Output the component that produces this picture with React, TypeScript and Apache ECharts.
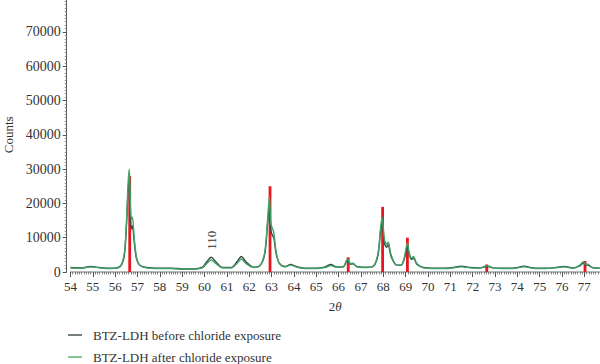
import React, { useEffect, useRef } from "react";
import * as echarts from "echarts";

// 2θ (degrees) and counts
const beforeExposure: [number, number][] = [
  [54.0, 1300], [54.5, 1200], [54.9, 1600], [55.3, 1300], [55.8, 1100], [56.2, 1500],
  [56.4, 4500], [56.5, 13000], [56.58, 24000], [56.63, 27000], [56.68, 18000], [56.72, 12500],
  [56.77, 13500], [56.85, 9000], [56.95, 4000], [57.1, 2000], [57.4, 1300], [58.0, 1100],
  [58.5, 1100], [59.0, 900], [59.5, 900], [59.9, 1400], [60.1, 3000], [60.3, 4300],
  [60.5, 3000], [60.8, 1300], [61.2, 1300], [61.45, 3000], [61.65, 4500], [61.85, 3000],
  [62.2, 1400], [62.5, 2000], [62.7, 5500], [62.82, 14000], [62.9, 19000], [62.97, 12000],
  [63.05, 10500], [63.1, 10000], [63.2, 5500], [63.35, 2500], [63.6, 1600], [63.85, 2200],
  [64.1, 1600], [64.5, 1100], [65.0, 1100], [65.4, 1500], [65.65, 2200], [65.9, 1500],
  [66.2, 1500], [66.4, 3500], [66.5, 2300], [66.65, 2400], [66.8, 1600], [67.1, 1400],
  [67.5, 1500], [67.75, 4500], [67.88, 12000], [67.95, 14500], [68.05, 8500], [68.15, 7200],
  [68.22, 8000], [68.35, 4500], [68.6, 2000], [68.8, 2000], [68.95, 4000], [69.08, 7500],
  [69.15, 5500], [69.25, 3700], [69.35, 4000], [69.5, 2300], [69.8, 1300], [70.3, 1100],
  [70.8, 1100], [71.2, 1400], [71.5, 1700], [71.9, 1300], [72.3, 1200], [72.6, 1500],
  [72.75, 1500], [72.9, 1200], [73.3, 1100], [73.9, 1200], [74.3, 1700], [74.7, 1200],
  [75.3, 1100], [75.8, 1400], [76.1, 1600], [76.5, 1200], [76.8, 1800], [76.95, 2600],
  [77.05, 2000], [77.15, 2000], [77.35, 1300], [77.7, 1100],
];

const afterExposure: [number, number][] = [
  [54.0, 1200], [54.5, 1100], [54.9, 1500], [55.3, 1200], [55.8, 1000], [56.2, 1500],
  [56.4, 5000], [56.5, 14000], [56.58, 26000], [56.63, 30000], [56.68, 20000], [56.72, 15500],
  [56.77, 16000], [56.85, 10000], [56.95, 4500], [57.1, 2000], [57.4, 1200], [58.0, 1000],
  [58.5, 1000], [59.0, 800], [59.5, 800], [59.9, 1200], [60.1, 2500], [60.3, 3500],
  [60.5, 2500], [60.8, 1200], [61.2, 1200], [61.45, 2500], [61.65, 3800], [61.85, 2500],
  [62.2, 1300], [62.5, 2000], [62.7, 6000], [62.82, 15000], [62.9, 22000], [62.97, 14000],
  [63.05, 12500], [63.1, 11500], [63.2, 6000], [63.35, 2500], [63.6, 1500], [63.85, 2000],
  [64.1, 1500], [64.5, 1000], [65.0, 1000], [65.4, 1300], [65.65, 1900], [65.9, 1400],
  [66.2, 1500], [66.4, 3800], [66.5, 2500], [66.65, 2600], [66.8, 1600], [67.1, 1300],
  [67.5, 1500], [67.75, 5000], [67.88, 13000], [67.95, 16000], [68.05, 9500], [68.15, 8000],
  [68.22, 8800], [68.35, 5000], [68.6, 2000], [68.8, 2000], [68.95, 4500], [69.08, 8500],
  [69.15, 6000], [69.25, 4000], [69.35, 4500], [69.5, 2500], [69.8, 1200], [70.3, 1000],
  [70.8, 1000], [71.2, 1300], [71.5, 1500], [71.9, 1200], [72.3, 1100], [72.6, 1800],
  [72.75, 1700], [72.9, 1200], [73.3, 1000], [73.9, 1100], [74.3, 1500], [74.7, 1100],
  [75.3, 1000], [75.8, 1300], [76.1, 1500], [76.5, 1100], [76.8, 2000], [76.95, 3000],
  [77.05, 2200], [77.15, 2300], [77.35, 1300], [77.7, 1100],
];

// reference pattern lines (red)
const referencePeaks: [number, number][] = [
  [56.65, 28000], [62.93, 25000], [66.43, 4300], [67.97, 19000],
  [69.08, 10000], [72.63, 2200], [77.03, 3200],
];

const seriesNames = ["BTZ-LDH before chloride exposure", "BTZ-LDH after chloride exposure"];
const annotation = { label: "110", at: [60.3, 4300] };

const SERIF = "'Liberation Serif', 'DejaVu Serif', serif";

export default function App() {
  const ref = useRef<HTMLDivElement>(null);
  useEffect(() => {
    if (!ref.current) return;
    const chart = echarts.init(ref.current, undefined, { renderer: "svg" });
    chart.setOption({
      animation: false,
      backgroundColor: "#ffffff",
      grid: {
        left: 70.5, right: 0, top: -2.3, bottom: 92,
        containLabel: false, outerBoundsMode: "none",
      },
      legend: {
        orient: "vertical",
        left: 68,
        top: 328,
        height: 40,
        padding: 0,
        itemGap: 8,
        itemWidth: 14,
        itemHeight: 1.4,
        icon: "rect",
        data: seriesNames,
        textStyle: { fontFamily: SERIF, fontSize: 13, color: "#333", padding: [0, 0, 0, 6], lineHeight: 14 },
      },
      xAxis: {
        type: "value",
        min: 54,
        max: 77.7,
        interval: 1,
        name: "2{i|θ}",
        nameLocation: "middle",
        nameGap: 28,
        nameTextStyle: {
          fontFamily: SERIF, fontSize: 13, color: "#333",
          rich: { i: { fontFamily: SERIF, fontSize: 13, fontStyle: "italic", color: "#333" } },
        },
        axisLine: { show: true, onZero: false, lineStyle: { color: "#9aa5a0", width: 1.5 } },
        axisTick: { show: true, inside: false, length: 5, lineStyle: { color: "#555", width: 1 } },
        minorTick: { show: true, splitNumber: 10, length: 2.5, lineStyle: { color: "#666", width: 0.8 } },
        axisLabel: { fontFamily: SERIF, fontSize: 13, color: "#333", margin: 8, showMaxLabel: false },
        splitLine: { show: false },
      },
      yAxis: {
        type: "value",
        min: 0,
        max: 80000,
        interval: 10000,
        offset: 3.8,
        name: "Counts",
        nameLocation: "middle",
        nameGap: 46,
        nameTextStyle: { fontFamily: SERIF, fontSize: 13, color: "#333" },
        axisLine: { show: true, lineStyle: { color: "#555", width: 1 } },
        axisTick: { show: true, inside: false, length: 4, lineStyle: { color: "#555", width: 1 } },
        minorTick: { show: true, splitNumber: 10, length: 2, lineStyle: { color: "#777", width: 0.8 } },
        axisLabel: {
          fontFamily: SERIF, fontSize: 14, color: "#333", margin: 6, showMaxLabel: false,
          formatter: (v: number) => String(v),
        },
        splitLine: { show: false },
      },
      series: [
        {
          name: seriesNames[0],
          type: "line",
          data: beforeExposure,
          smooth: 0.3,
          showSymbol: false,
          symbol: "none",
          lineStyle: { color: "#3a4743", width: 1.4 },
          itemStyle: { color: "#3a4743" },
          markPoint: {
            symbol: "circle",
            symbolSize: 1,
            itemStyle: { color: "rgba(0,0,0,0)" },
            data: [{ coord: annotation.at, value: annotation.label }],
            label: {
              show: true,
              formatter: annotation.label,
              rotate: 90,
              position: "inside",
              offset: [17, 0],
              fontFamily: SERIF,
              fontSize: 13,
              color: "#333",
            },
          },
        },
        {
          name: seriesNames[1],
          type: "line",
          data: afterExposure,
          smooth: 0.3,
          showSymbol: false,
          symbol: "none",
          lineStyle: { color: "#3fa266", width: 1.4 },
          itemStyle: { color: "#4caf6a" },
        },
        {
          name: "reference",
          type: "bar",
          data: referencePeaks,
          barWidth: 2.8,
          itemStyle: { color: "#e8161e" },
        },
      ],
    });
    return () => chart.dispose();
  }, []);
  return (
    <div
      ref={ref}
      style={{ position: "fixed", left: 0, top: 0, width: 600, height: 364 }}
    />
  );
}
